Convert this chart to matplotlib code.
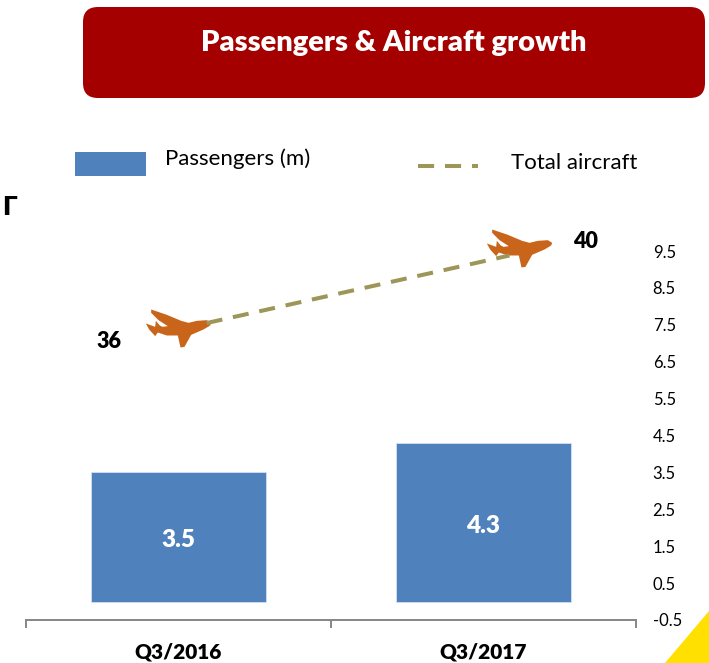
import numpy as np
import matplotlib
matplotlib.use("Agg")
import matplotlib.pyplot as plt
from matplotlib.patches import FancyBboxPatch, Polygon, Rectangle
from matplotlib.lines import Line2D
from matplotlib.path import Path
from matplotlib.transforms import Affine2D

plt.rcParams['font.family'] = ['Lato', 'DejaVu Sans']

# Datos
categories = ["Q3/2016", "Q3/2017"]
passengers = [3.5, 4.3]
aircraft = [36, 40]
axis_ticks = [-0.5, 0.5, 1.5, 2.5, 3.5, 4.5, 5.5, 6.5, 7.5, 8.5, 9.5]

BLUE = "#4F81BD"
OLIVE = "#9E9559"
ORANGE = "#C8651B"
RED = "#A50000"
YELLOW = "#FFE000"
GRAY = "#868686"
BOLD = 800

W, H = 709, 663
fig = plt.figure(figsize=(W / 100, H / 100), dpi=100)

# Transformacion en pixeles de la imagen (y hacia abajo), para los adornos
px = Affine2D().scale(1 / W, -1 / H).translate(0, 1) + fig.transFigure

# Ejes
ax = fig.add_axes([26 / W, (H - 620) / H, 610 / W, 369 / H])
ax.set_xlim(-0.5, 1.5)
ax.set_ylim(-0.5, 9.5)
ax.patch.set_visible(False)

bars = ax.bar(range(len(categories)), passengers, width=0.572, color=BLUE,
              edgecolor="#DCE6F2", linewidth=0.5, zorder=2)
bar_texts = ax.bar_label(bars, labels=[str(v) for v in passengers], label_type="center",
                         color="white", fontsize=17.5, fontweight=BOLD)
for t in bar_texts:
    t.xyann = (0, -2.5)

for side in ["top", "left", "right"]:
    ax.spines[side].set_visible(False)
ax.spines["bottom"].set_color(GRAY)
ax.spines["bottom"].set_linewidth(1.4)

# Marcas del eje x entre categorias, etiquetas centradas
ax.set_xticks([-0.5, 0.5, 1.5])
ax.set_xticklabels([])
ax.tick_params(axis="x", which="major", length=6, width=1.4, color=GRAY, direction="out")
ax.set_xticks([0, 1], minor=True)
ax.set_xticklabels(categories, minor=True, fontsize=15, fontweight=BOLD)
ax.tick_params(axis="x", which="minor", length=0, pad=16.5)

# Segundo eje para los aviones
ax2 = ax.twinx()
ax2.set_ylim(36 - (620 - 323) / 16.9, 40 + (255.5 - 251) / 16.9)
ax2.axis("off")

# twinx devuelve las etiquetas a la izquierda, asi que van despues
ax.yaxis.tick_right()
ax.set_yticks(axis_ticks)
ax.set_yticklabels([str(v) for v in axis_ticks], fontsize=12)
ax.tick_params(axis="y", length=0, pad=12)

# Silueta del avion, en pixeles alrededor de su centro
plane_xy = np.array([
    (218, 68), (205, 60), (175, 62), (150, 68), (128, 62), (85, 44), (38, 28),
    (38, 38), (60, 60), (88, 78), (72, 80), (64, 76), (52, 62), (50, 80),
    (22, 70), (32, 88), (50, 108), (58, 97), (85, 106), (118, 106), (126, 142),
    (138, 140), (158, 104), (195, 88), (215, 76), (218, 68),
], dtype=float)
plane_xy = (plane_xy - (120, 85)) * (1, -1)
plane = Path(plane_xy, closed=True)
plane_size = 2 * np.abs(plane_xy).max() / 3 * 0.72
plane_x = [-0.003, 1.118]
plane_y = [36 - 5 / 16.9, 40 + 7.5 / 16.9]
ax2.plot(plane_x, plane_y, ls="none", marker=plane, markersize=plane_size,
         color=ORANGE, markeredgewidth=0, zorder=3, clip_on=False)

line_x = [0.092, 1.085]
ax2.plot(line_x, aircraft, color=OLIVE, lw=2.9, dashes=(4.0, 2.7), zorder=4)

# Etiquetas de aviones
fig.text(109, 342, str(aircraft[0]), transform=px, fontsize=15.5, fontweight=BOLD,
         ha="center", va="center")
fig.text(585, 241, str(aircraft[1]), transform=px, fontsize=15.5, fontweight=BOLD,
         ha="center", va="center")

# Titulo
box = FancyBboxPatch((83, 7), 622, 91, boxstyle="round,pad=0,rounding_size=15",
                     transform=px, facecolor=RED, edgecolor="none")
fig.add_artist(box)
fig.text(394, 43, "Passengers & Aircraft growth", transform=px, color="white",
         fontsize=21, fontweight=BOLD, ha="center", va="center")

# Leyenda
fig.add_artist(Rectangle((75, 152), 71, 24, transform=px, facecolor=BLUE, edgecolor="none"))
fig.text(165, 159, "Passengers (m)", transform=px, fontsize=16, va="center")
fig.add_artist(Line2D([418, 478], [166, 166], transform=px, color=OLIVE, lw=2.9,
                      dashes=(4.0, 2.7)))
fig.text(511, 163, "Total aircraft", transform=px, fontsize=16, va="center")

# Resto recortado a la izquierda y triangulo amarillo
fig.text(2, 207, "\u0393", transform=px, fontsize=19, fontweight=BOLD, va="center")
fig.add_artist(Polygon([(709, 611), (709, 663), (665, 663)], transform=px,
                       facecolor=YELLOW, edgecolor="none"))

fig.savefig("out.png", dpi=100)
